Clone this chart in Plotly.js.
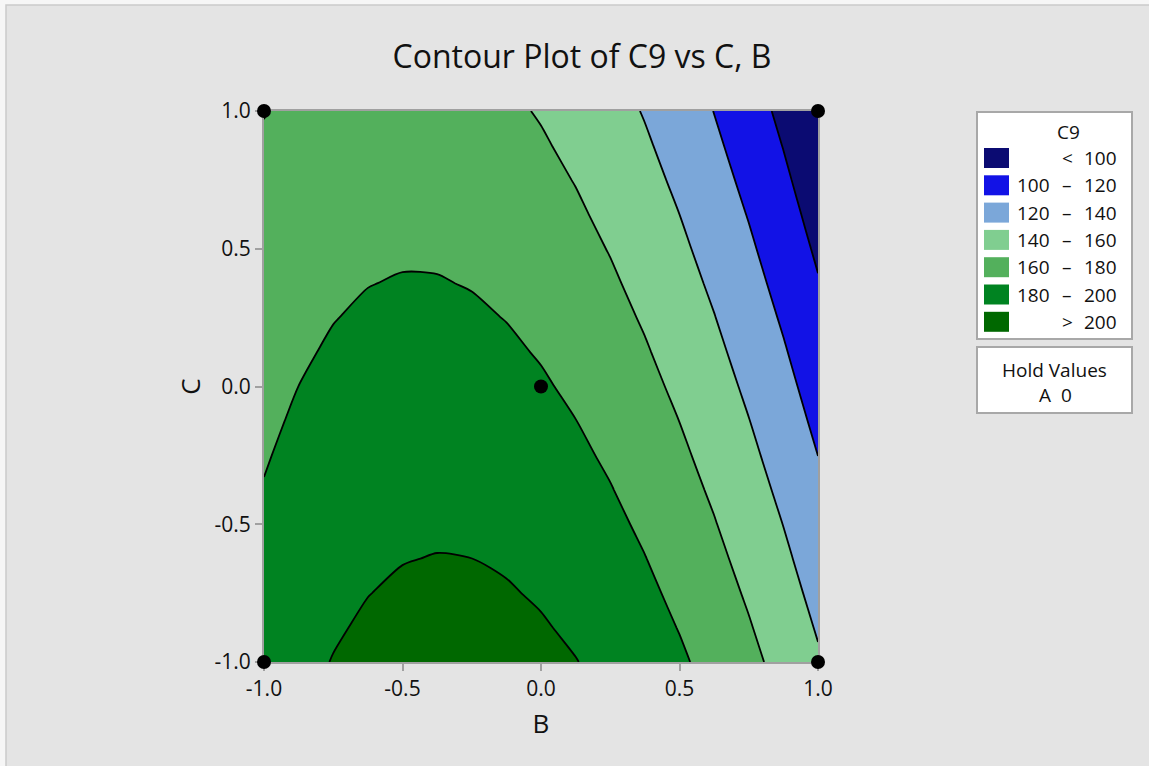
<!DOCTYPE html>
<html>
<head>
<meta charset="utf-8">
<script src="https://cdn.plot.ly/plotly-3.0.1.min.js"></script>
<style>
html,body{margin:0;padding:0;background:#ffffff;}
#chart{width:1149px;height:766px;}
</style>
</head>
<body>
<div id="chart"></div>
<script>
// ---- data ----
const bValues = [-1, -0.875, -0.75, -0.625, -0.5, -0.375, -0.25, -0.125, 0,
                 0.125, 0.25, 0.375, 0.5, 0.625, 0.75, 0.875, 1];
const cValues = [-1, -0.875, -0.75, -0.625, -0.5, -0.375, -0.25, -0.125, 0,
                 0.125, 0.25, 0.375, 0.5, 0.625, 0.75, 0.875, 1];
// C9 estimated on the B x C grid; one row per C value (bottom to top)
const c9RowCm1000 = [189.87, 195.79, 200.53, 204.07, 206.44, 207.61, 207.59, 206.39, 204.00, 200.43, 195.66, 189.71, 182.57, 174.24, 164.73, 154.03, 142.14];
const c9RowCm0875 = [188.06, 193.86, 198.48, 201.91, 204.16, 205.22, 205.09, 203.77, 201.26, 197.57, 192.69, 186.62, 179.36, 170.92, 161.29, 150.47, 138.47];
const c9RowCm0750 = [186.23, 191.93, 196.43, 199.74, 201.87, 202.81, 202.57, 201.13, 198.51, 194.70, 189.70, 183.52, 176.15, 167.59, 157.84, 146.91, 134.78];
const c9RowCm0625 = [184.40, 189.98, 194.36, 197.56, 199.57, 200.40, 200.03, 198.48, 195.74, 191.82, 186.70, 180.40, 172.92, 164.24, 154.38, 143.33, 131.09];
const c9RowCm0500 = [182.56, 188.01, 192.28, 195.37, 197.26, 197.97, 197.49, 195.82, 192.97, 188.93, 183.70, 177.28, 169.67, 160.88, 150.90, 139.74, 127.38];
const c9RowCm0375 = [180.70, 186.04, 190.19, 193.16, 194.94, 195.53, 194.94, 193.15, 190.18, 186.02, 180.68, 174.14, 166.42, 157.51, 147.42, 136.13, 123.66];
const c9RowCm0250 = [178.83, 184.06, 188.09, 190.94, 192.61, 193.08, 192.37, 190.47, 187.38, 183.11, 177.64, 170.99, 163.16, 154.13, 143.92, 132.52, 119.93];
const c9RowCm0125 = [176.95, 182.06, 185.98, 188.72, 190.26, 190.62, 189.79, 187.78, 184.57, 180.18, 174.60, 167.84, 159.88, 150.74, 140.41, 128.89, 116.19];
const c9RowC0000  = [175.06, 180.05, 183.86, 186.48, 187.91, 188.15, 187.20, 185.07, 181.75, 177.24, 171.55, 164.66, 156.59, 147.34, 136.89, 125.26, 112.44];
const c9RowC0125  = [173.16, 178.04, 181.72, 184.22, 185.54, 185.66, 184.60, 182.35, 178.92, 174.29, 168.48, 161.48, 153.30, 143.92, 133.36, 121.61, 108.67];
const c9RowC0250  = [171.25, 176.01, 179.58, 181.96, 183.16, 183.17, 181.99, 179.63, 176.07, 171.33, 165.40, 158.29, 149.99, 140.50, 129.82, 117.95, 104.90];
const c9RowC0375  = [169.32, 173.97, 177.42, 179.69, 180.77, 180.66, 179.37, 176.89, 173.22, 168.36, 162.32, 155.08, 146.66, 137.06, 126.26, 114.28, 101.11];
const c9RowC0500  = [167.39, 171.91, 175.25, 177.40, 178.37, 178.14, 176.73, 174.14, 170.35, 165.38, 159.22, 151.87, 143.33, 133.61, 122.70, 110.60, 97.31];
const c9RowC0625  = [165.44, 169.85, 173.07, 175.11, 175.95, 175.61, 174.09, 171.37, 167.47, 162.38, 156.10, 148.64, 139.99, 130.15, 119.12, 106.91, 93.50];
const c9RowC0750  = [163.48, 167.77, 170.88, 172.80, 173.53, 173.07, 171.43, 168.60, 164.58, 159.38, 152.98, 145.40, 136.63, 126.68, 115.53, 103.20, 89.68];
const c9RowC0875  = [161.51, 165.69, 168.68, 170.48, 171.09, 170.52, 168.76, 165.81, 161.68, 156.36, 149.85, 142.15, 133.27, 123.19, 111.93, 99.49, 85.85];
const c9RowC1000  = [159.53, 163.59, 166.46, 168.15, 168.65, 167.96, 166.08, 163.02, 158.77, 153.33, 146.70, 138.89, 129.89, 119.70, 108.32, 95.76, 82.01];

const contourLevels = [100, 120, 140, 160, 180, 200];
const bandColors = ['#0b0b72', '#1212e6', '#7ba7d9', '#80ce90', '#53b05c', '#008321', '#006800'];

const designB = [-1, -1, 1, 1, 0];
const designC = [-1, 1, -1, 1, 0];

const tickValues = [-1, -0.5, 0, 0.5, 1];
const tickLabels = ['-1.0', '-0.5', '0.0', '0.5', '1.0'];

const chartTitle = 'Contour Plot of C9 vs C, B';
const xTitle = 'B';
const yTitle = 'C';
const legendTitle = 'C9';
const holdTitle = 'Hold Values';
const holdFactor = 'A';
const holdValue = 0;

// ---- build ----
const zGrid = [c9RowCm1000, c9RowCm0875, c9RowCm0750, c9RowCm0625, c9RowCm0500,
               c9RowCm0375, c9RowCm0250, c9RowCm0125, c9RowC0000, c9RowC0125,
               c9RowC0250, c9RowC0375, c9RowC0500, c9RowC0625, c9RowC0750,
               c9RowC0875, c9RowC1000];

const nb = bandColors.length;
const colorscale = [];
bandColors.forEach((c, i) => {
  colorscale.push([i / nb, c]);
  colorscale.push([(i + 1) / nb, c]);
});

const step = contourLevels[1] - contourLevels[0];
const FONT = 'Open Sans, Noto Sans, sans-serif';

const traces = [
  {
    type: 'contour',
    x: bValues,
    y: cValues,
    z: zGrid,
    autocontour: false,
    contours: {
      start: contourLevels[0],
      end: contourLevels[contourLevels.length - 1],
      size: step,
      coloring: 'fill',
      showlines: true
    },
    zmin: contourLevels[0] - step / 2,
    zmax: contourLevels[contourLevels.length - 1] + step / 2,
    colorscale: colorscale,
    line: { color: '#000000', width: 1.8, smoothing: 0.8 },
    showscale: false,
    hoverinfo: 'skip'
  },
  {
    type: 'scatter',
    mode: 'markers',
    x: designB,
    y: designC,
    marker: { color: '#000000', size: 14 },
    cliponaxis: false,
    hoverinfo: 'skip',
    showlegend: false
  }
];

// plot area in pixels: x 264..818, y 111..662
const L = 264, R = 818, T = 111, B = 662;
const px = x => (x - L) / (R - L);
const py = y => (B - y) / (B - T);

const shapes = [];
const annotations = [];

// figure frame
shapes.push({ type: 'rect', xref: 'paper', yref: 'paper', layer: 'below',
  x0: px(0), x1: px(1149), y0: py(766), y1: py(0),
  fillcolor: '#f6f6f6', line: { width: 0 } });
shapes.push({ type: 'rect', xref: 'paper', yref: 'paper', layer: 'below',
  x0: px(6), x1: px(1160), y0: py(780), y1: py(5),
  fillcolor: '#e4e4e4', line: { color: '#cacaca', width: 1.5 } });

// legend boxes
shapes.push({ type: 'rect', xref: 'paper', yref: 'paper',
  x0: px(977), x1: px(1132), y0: py(339), y1: py(112),
  fillcolor: '#ffffff', line: { color: '#a8a8a8', width: 2 } });
shapes.push({ type: 'rect', xref: 'paper', yref: 'paper',
  x0: px(977), x1: px(1132), y0: py(413), y1: py(347),
  fillcolor: '#ffffff', line: { color: '#a8a8a8', width: 2 } });

annotations.push({ xref: 'paper', yref: 'paper', x: px(1068), y: py(132),
  text: legendTitle, showarrow: false, xanchor: 'center', yanchor: 'middle',
  font: { family: FONT, size: 19, color: '#111' } });

bandColors.forEach((col, i) => {
  const yc = 158 + i * 27.3;
  shapes.push({ type: 'rect', xref: 'paper', yref: 'paper',
    x0: px(984), x1: px(1009), y0: py(yc + 10), y1: py(yc - 10),
    fillcolor: col, line: { width: 0 } });
  let lo = '', op = '', hi = '';
  if (i === 0) { op = '<'; hi = String(contourLevels[0]); }
  else if (i === nb - 1) { op = '>'; hi = String(contourLevels[contourLevels.length - 1]); }
  else { lo = String(contourLevels[i - 1]); op = '–'; hi = String(contourLevels[i]); }
  const f = { family: FONT, size: 19, color: '#111' };
  if (lo) annotations.push({ xref: 'paper', yref: 'paper', x: px(1052), y: py(yc),
    text: lo, showarrow: false, xanchor: 'right', yanchor: 'middle', font: f });
  annotations.push({ xref: 'paper', yref: 'paper', x: px(1067), y: py(yc),
    text: op, showarrow: false, xanchor: 'center', yanchor: 'middle', font: f });
  annotations.push({ xref: 'paper', yref: 'paper', x: px(1119), y: py(yc),
    text: hi, showarrow: false, xanchor: 'right', yanchor: 'middle', font: f });
});

annotations.push({ xref: 'paper', yref: 'paper', x: px(1054), y: py(370),
  text: holdTitle, showarrow: false, xanchor: 'center', yanchor: 'middle',
  font: { family: FONT, size: 19, color: '#111' } });
annotations.push({ xref: 'paper', yref: 'paper', x: px(1055), y: py(395),
  text: holdFactor + '&nbsp;&nbsp;' + holdValue, showarrow: false, xanchor: 'center', yanchor: 'middle',
  font: { family: FONT, size: 19, color: '#111' } });

const axisCommon = {
  range: [-1, 1],
  tickvals: tickValues,
  ticktext: tickLabels,
  ticks: 'outside',
  ticklen: 7,
  tickwidth: 2,
  tickcolor: '#a0a0a0',
  showline: true,
  linecolor: '#a0a0a0',
  linewidth: 2,
  mirror: true,
  showgrid: false,
  zeroline: false,
  fixedrange: true,
  layer: 'below traces',
  tickfont: { family: FONT, size: 21, color: '#111' }
};

const layout = {
  width: 1149,
  height: 766,
  margin: { l: L, r: 1149 - R, t: T, b: 766 - B, pad: 0 },
  paper_bgcolor: '#e4e4e4',
  plot_bgcolor: '#e4e4e4',
  showlegend: false,
  title: {
    text: chartTitle,
    font: { family: FONT, size: 32, color: '#111' },
    xref: 'container', x: 582 / 1149, xanchor: 'center',
    yref: 'container', y: 1 - 57 / 766, yanchor: 'middle'
  },
  xaxis: Object.assign({}, axisCommon, {
    title: { text: xTitle, font: { family: FONT, size: 26, color: '#111' }, standoff: 14 }
  }),
  yaxis: Object.assign({}, axisCommon, {
    title: { text: yTitle, font: { family: FONT, size: 26, color: '#111' }, standoff: 6 }
  }),
  shapes: shapes,
  annotations: annotations
};

Plotly.newPlot('chart', traces, layout, { displayModeBar: false, staticPlot: true });
</script>
</body>
</html>
